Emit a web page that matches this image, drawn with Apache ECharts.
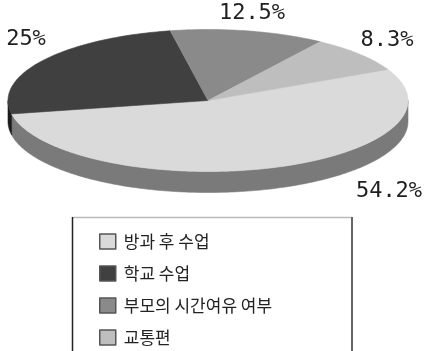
<!DOCTYPE html>
<html><head><meta charset="utf-8">
<script src="https://cdn.jsdelivr.net/npm/echarts@6/dist/echarts.min.js"></script>
<style>html,body{margin:0;padding:0;background:#fff}#c{width:424px;height:351px}</style>
</head><body><div id="c"></div>
<script>
// ---- data ----
const categories = ['방과 후 수업', '학교 수업', '부모의 시간여유 여부', '교통편'];
const values = [54.2, 25, 12.5, 8.3];

// ---- styles / layout ----
const topColors = ['#dadada', '#404040', '#8a8a8a', '#bebebe'];
const sideColors = ['#7a7a7a', '#1c1c1c', '#555555', '#8a8a8a'];
const labelAt = [[389, 191], [26, 39], [252, 13], [387, 40]];
const E = { cx: 208, cy: 100.5, rx: 200, ry: 71, depth: 21, start: 26 };

const total = values.reduce((a, b) => a + b, 0);
function pt(t, dy) {
  const r = t * Math.PI / 180;
  return [E.cx + E.rx * Math.cos(r), E.cy - E.ry * Math.sin(r) + (dy || 0)];
}

function renderItem(params, api) {
  const i = params.dataIndex;
  let before = 0;
  for (let k = 0; k < i; k++) before += values[k];
  const v = api.value(0);
  const a0 = E.start - before / total * 360;
  const a1 = a0 - v / total * 360;
  const children = [];
  const topPts = [[E.cx, E.cy]];
  const n = Math.max(2, Math.ceil(a0 - a1));
  for (let j = 0; j <= n; j++) topPts.push(pt(a0 - (a0 - a1) * j / n));
  children.push({ type: 'polygon', z2: 10, shape: { points: topPts },
    style: { fill: topColors[i], stroke: topColors[i], lineWidth: 0.6 } });
  const br = [a0, a1];
  for (let k = Math.ceil(a1 / 180); k * 180 < a0; k++) if (k * 180 > a1) br.push(k * 180);
  br.sort((x, y) => y - x);
  for (let b = 0; b < br.length - 1; b++) {
    const u = br[b], w = br[b + 1], m = (u + w) / 2;
    if (Math.sin(m * Math.PI / 180) < 0) {
      const pts = [];
      const m2 = Math.max(2, Math.ceil(u - w));
      for (let j = 0; j <= m2; j++) pts.push(pt(u - (u - w) * j / m2));
      for (let j = m2; j >= 0; j--) pts.push(pt(u - (u - w) * j / m2, E.depth));
      children.push({ type: 'polygon', z2: 1, shape: { points: pts },
        style: { fill: sideColors[i], stroke: sideColors[i], lineWidth: 0.6 } });
    }
  }
  children.push({ type: 'text', z2: 20, x: labelAt[i][0], y: labelAt[i][1],
    style: { text: v + '%', fill: '#1e1e1e', font: '22px "DejaVu Sans Mono"',
      align: 'center', verticalAlign: 'middle' } });
  return { type: 'group', children };
}

const chart = echarts.init(document.getElementById('c'), null, { renderer: 'canvas' });
chart.setOption({
  animation: false,
  backgroundColor: '#fff',
  graphic: [
    { type: 'line', shape: { x1: 72, y1: 217.5, x2: 352, y2: 217.5 }, style: { stroke: '#bbb', lineWidth: 1.5 } },
    { type: 'line', shape: { x1: 72.5, y1: 217, x2: 72.5, y2: 360 }, style: { stroke: '#222', lineWidth: 1.5 } },
    { type: 'line', shape: { x1: 352, y1: 217, x2: 352, y2: 360 }, style: { stroke: '#666', lineWidth: 2 } }
  ],
  legend: {
    orient: 'vertical', left: 99, top: 233, padding: 0,
    itemWidth: 16, itemHeight: 15, itemGap: 15,
    icon: 'rect',
    itemStyle: { borderColor: '#555', borderWidth: 1.5 },
    textStyle: { fontSize: 17, fontFamily: '"Noto Sans CJK KR"', color: '#222', padding: [0, 0, 0, 3] },
    data: categories
  },
  series: [
    {
      type: 'pie', silent: true, radius: [0, 0], center: [-100, -100],
      label: { show: false }, labelLine: { show: false },
      data: categories.map((c, i) => ({ name: c, value: values[i], itemStyle: { color: topColors[i] } }))
    },
    {
      type: 'custom', coordinateSystem: 'none', silent: true,
      renderItem: renderItem,
      data: values.map(v => [v])
    }
  ]
});
</script></body></html>
